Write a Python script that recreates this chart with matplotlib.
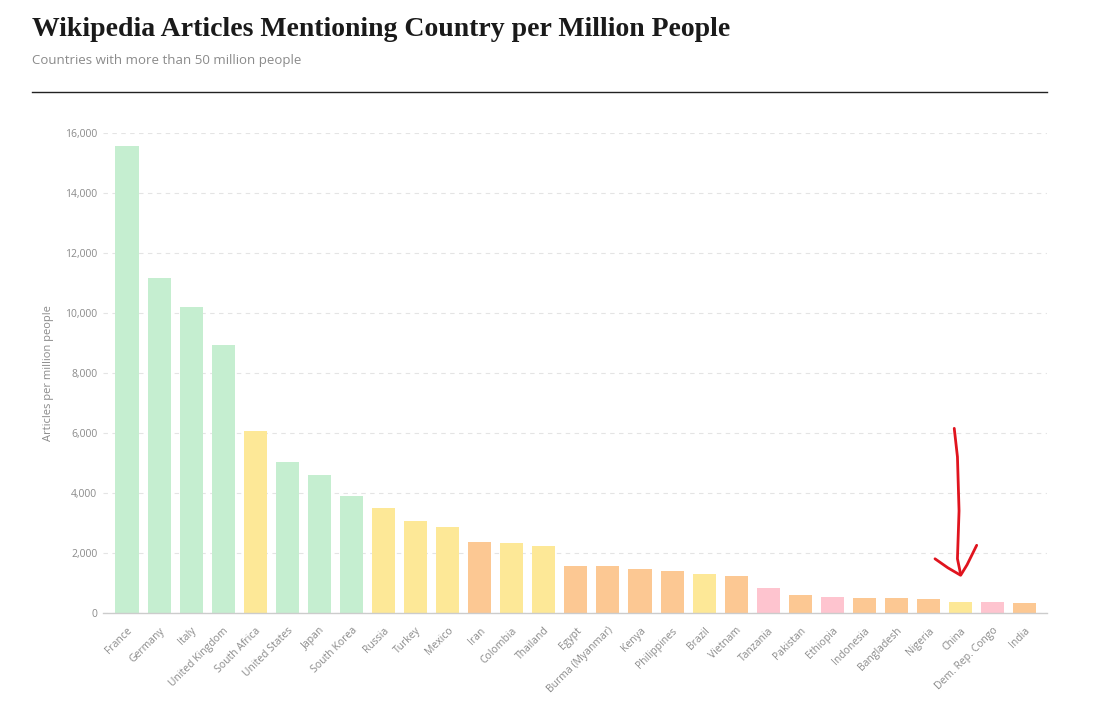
import matplotlib.pyplot as plt
from matplotlib.ticker import FuncFormatter

# data
countries = ['France', 'Germany', 'Italy', 'United Kingdom', 'South Africa',
             'United States', 'Japan', 'South Korea', 'Russia', 'Turkey',
             'Mexico', 'Iran', 'Colombia', 'Thailand', 'Egypt',
             'Burma (Myanmar)', 'Kenya', 'Philippines', 'Brazil', 'Vietnam',
             'Tanzania', 'Pakistan', 'Ethiopia', 'Indonesia', 'Bangladesh',
             'Nigeria', 'China', 'Dem. Rep. Congo', 'India']
articles = [15580, 11150, 10200, 8920, 6050,
            5030, 4600, 3880, 3500, 3060,
            2860, 2370, 2320, 2230, 1570,
            1560, 1460, 1400, 1300, 1240,
            810, 600, 535, 505, 500,
            455, 365, 345, 335]
groups = ['g', 'g', 'g', 'g', 'y',
          'g', 'g', 'g', 'y', 'y',
          'y', 'o', 'y', 'y', 'o',
          'o', 'o', 'o', 'y', 'o',
          'p', 'o', 'p', 'o', 'o',
          'o', 'y', 'p', 'o']
yticks = [0, 2000, 4000, 6000, 8000, 10000, 12000, 14000, 16000]

palette = {'g': '#c5eed0', 'y': '#fde897', 'o': '#fcc893', 'p': '#fec4cf'}
grey = '#8a8a8a'

fig = plt.figure(figsize=(11.07, 7.15), dpi=100)
ax = fig.add_axes([0.093, 0.143, 0.853, 0.671])

x = range(len(countries))
ax.bar(x, articles, width=0.72, color=[palette[g] for g in groups], zorder=2)

ax.set_xlim(-0.75, len(countries) - 0.3)
ax.set_ylim(0, 16000)
ax.set_yticks(yticks)
ax.yaxis.set_major_formatter(FuncFormatter(lambda v, p: f'{int(v):,}'))
ax.set_xticks(list(x))
ax.set_xticklabels(countries, rotation=45, ha='right', rotation_mode='anchor')

ax.tick_params(axis='y', labelsize=7.5, colors=grey, length=0, pad=4)
ax.tick_params(axis='x', labelsize=7.5, colors=grey, length=0, pad=9)
ax.grid(axis='y', color='#e4e4e4', linestyle=(0, (4, 4)), linewidth=0.8, zorder=0)

for s in ['top', 'right', 'left']:
    ax.spines[s].set_visible(False)
ax.spines['bottom'].set_color('#cccccc')
ax.spines['bottom'].set_linewidth(1.0)

ax.set_ylabel('Articles per million people', fontsize=8, color=grey,
              family='Open Sans', labelpad=8)
for lab in ax.get_xticklabels() + ax.get_yticklabels():
    lab.set_family('Open Sans')

# hand drawn red arrow pointing at China
ci = countries.index('China')
ax.plot([ci - 0.2, ci - 0.1, ci - 0.05, ci - 0.1, ci], [6150, 5200, 3400, 1800, 1280],
        color='#e0141e', lw=2, solid_capstyle='round', zorder=5)
ax.plot([ci - 0.8, ci - 0.4, ci, ci + 0.2, ci + 0.5], [1800, 1500, 1250, 1600, 2250],
        color='#e0141e', lw=2, solid_capstyle='round', zorder=5)

fig.text(0.029, 0.959, 'Wikipedia Articles Mentioning Country per Million People',
         fontsize=20, fontweight='bold', family='Liberation Serif',
         color='#1a1a1a', va='center')
fig.text(0.029, 0.916, 'Countries with more than 50 million people',
         fontsize=9.5, color=grey, family='Open Sans', va='center')
fig.add_artist(plt.Line2D([0.029, 0.946], [0.871, 0.871], color='#222222', lw=1))

fig.savefig('out.png', dpi=100, facecolor='white')
